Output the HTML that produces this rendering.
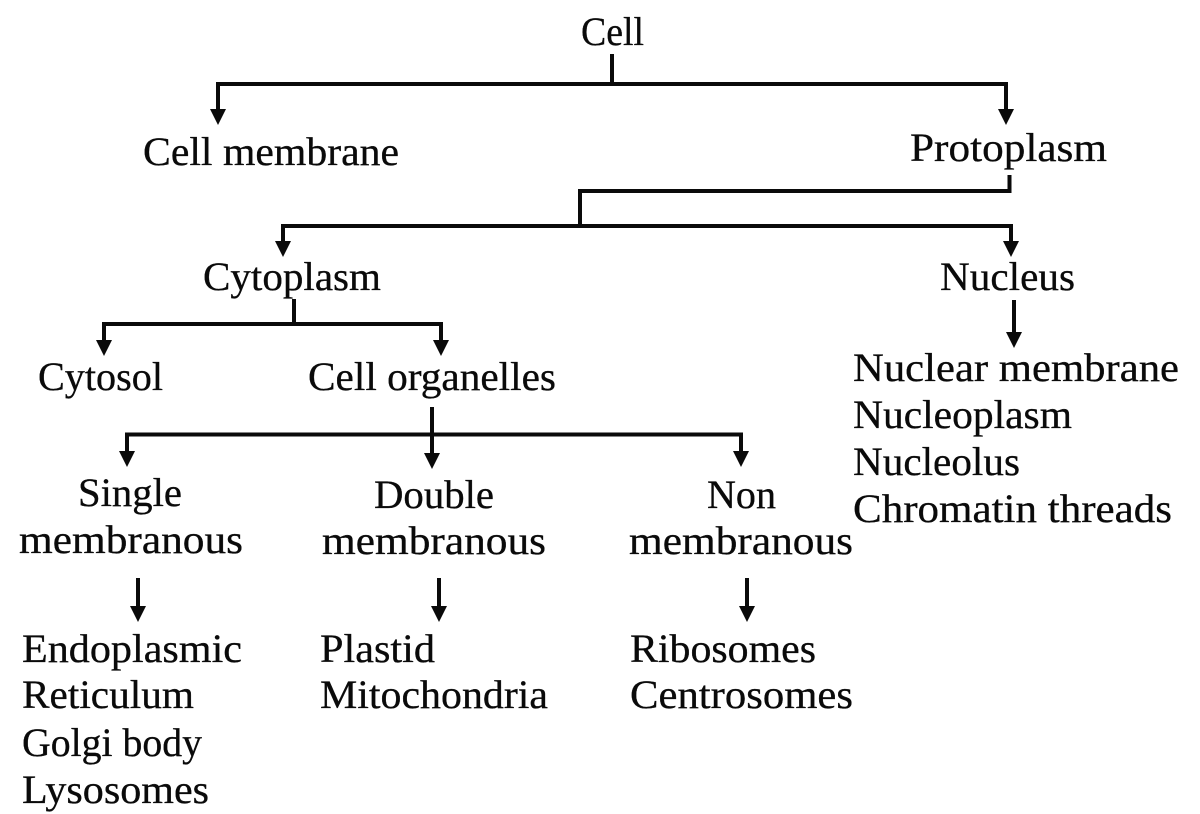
<!DOCTYPE html>
<html>
<head>
<meta charset="utf-8">
<style>
html,body{margin:0;padding:0;background:#fff;width:1200px;height:814px;overflow:hidden}
svg{display:block}
text{font-family:"Liberation Serif",serif;font-size:40px;fill:#0a0a0a;stroke:#0a0a0a;stroke-width:.3px;letter-spacing:0}
</style>
</head>
<body>
<svg width="1200" height="814" viewBox="0 0 1200 814" xmlns="http://www.w3.org/2000/svg">
<g stroke="#0a0a0a" stroke-width="4" fill="none">
<path d="M612 54V84M218 112V84H1006V112"/>
<path d="M1009.500 175V191H580V226M283 244V226H1011V244"/>
<path d="M294 299V324M104 342V324H441V342"/>
<path d="M1014 300V336"/>
<path d="M432 407V456M127 454V434.500H741V454"/>
<path d="M138 578V610M439 578V610M747 578V610"/>
</g>
<g fill="#0a0a0a">
<path d="M210 109H226L218 125Z"/>
<path d="M998 109H1014L1006 125Z"/>
<path d="M275 241H291L283 257Z"/>
<path d="M1003 241H1019L1011 257Z"/>
<path d="M96 340H112L104 356Z"/>
<path d="M433 340H449L441 356Z"/>
<path d="M1006 332H1022L1014 348Z"/>
<path d="M119 451H135L127 467Z"/>
<path d="M424 453H440L432 469Z"/>
<path d="M733 451H749L741 467Z"/>
<path d="M130 606H146L138 622Z"/>
<path d="M431 606H447L439 622Z"/>
<path d="M739 606H755L747 622Z"/>
</g>
<g>
<text x="581" y="45" textLength="63" lengthAdjust="spacingAndGlyphs">Cell</text>
<text x="143" y="165" textLength="256" lengthAdjust="spacingAndGlyphs">Cell membrane</text>
<text x="910" y="161" textLength="197" lengthAdjust="spacingAndGlyphs">Protoplasm</text>
<text x="203" y="290" textLength="178" lengthAdjust="spacingAndGlyphs">Cytoplasm</text>
<text x="940" y="290" textLength="135" lengthAdjust="spacingAndGlyphs">Nucleus</text>
<text x="38" y="390" textLength="125" lengthAdjust="spacingAndGlyphs">Cytosol</text>
<text x="308" y="390" textLength="248" lengthAdjust="spacingAndGlyphs">Cell organelles</text>
<text x="853" y="381" textLength="326" lengthAdjust="spacingAndGlyphs">Nuclear membrane</text>
<text x="853" y="428" textLength="219" lengthAdjust="spacingAndGlyphs">Nucleoplasm</text>
<text x="853" y="475" textLength="167" lengthAdjust="spacingAndGlyphs">Nucleolus</text>
<text x="853" y="522" textLength="319" lengthAdjust="spacingAndGlyphs">Chromatin threads</text>
<text x="78" y="506" textLength="104" lengthAdjust="spacingAndGlyphs">Single</text>
<text x="19" y="553" textLength="224" lengthAdjust="spacingAndGlyphs">membranous</text>
<text x="374" y="508" textLength="120" lengthAdjust="spacingAndGlyphs">Double</text>
<text x="322" y="554" textLength="224" lengthAdjust="spacingAndGlyphs">membranous</text>
<text x="707" y="508" textLength="69" lengthAdjust="spacingAndGlyphs">Non</text>
<text x="629" y="554" textLength="224" lengthAdjust="spacingAndGlyphs">membranous</text>
<text x="22" y="662" textLength="220" lengthAdjust="spacingAndGlyphs">Endoplasmic</text>
<text x="22" y="708" textLength="172" lengthAdjust="spacingAndGlyphs">Reticulum</text>
<text x="22" y="756" textLength="180" lengthAdjust="spacingAndGlyphs">Golgi body</text>
<text x="22" y="803" textLength="187" lengthAdjust="spacingAndGlyphs">Lysosomes</text>
<text x="320" y="662" textLength="115" lengthAdjust="spacingAndGlyphs">Plastid</text>
<text x="320" y="708" textLength="228" lengthAdjust="spacingAndGlyphs">Mitochondria</text>
<text x="630" y="662" textLength="186" lengthAdjust="spacingAndGlyphs">Ribosomes</text>
<text x="630" y="708" textLength="223" lengthAdjust="spacingAndGlyphs">Centrosomes</text>
</g>
</svg>
</body>
</html>
